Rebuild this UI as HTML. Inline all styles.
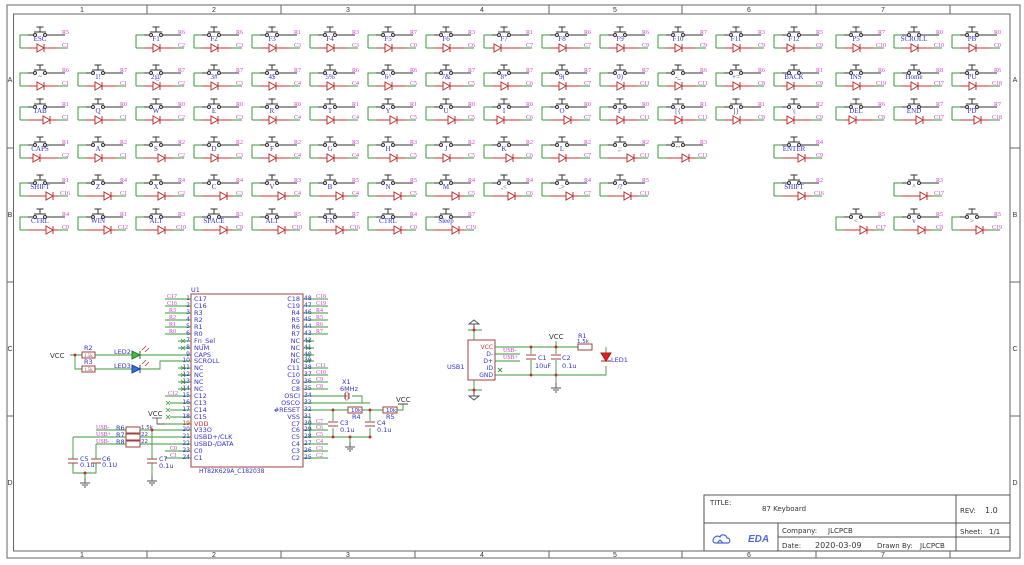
<!DOCTYPE html>
<html><head><meta charset="utf-8"><style>
html,body{margin:0;padding:0;background:#fff;}
svg{display:block;}
.k{font:7px "Liberation Serif",serif;fill:#3333cc;text-anchor:middle;}
.r{font:6px "Liberation Serif",serif;fill:#d040d0;}
.p{font:6px "Liberation Serif",serif;fill:#d040d0;}
.s{font:7px "DejaVu Sans","Liberation Sans",sans-serif;fill:#3333cc;}
.n{font:6.5px "DejaVu Sans","Liberation Sans",sans-serif;fill:#3333cc;}
.b{font:7px "DejaVu Sans","Liberation Sans",sans-serif;fill:#333;}
.fr{font:7px "Liberation Sans",sans-serif;fill:#333;text-anchor:middle;}
</style></head><body>
<svg width="1024" height="565" viewBox="0 0 1024 565" xmlns="http://www.w3.org/2000/svg">
<defs>
<g id="s" fill="none" stroke-width="1">
<path d="M13,0H0V13" stroke="#3a9a3a"/>
<path d="M0,13H8" stroke="#3a9a3a"/>
<path d="M8,0H13.5M26.5,0H45" stroke="#333"/>
<circle cx="15" cy="0" r="1.5" stroke="#333"/><circle cx="25" cy="0" r="1.5" stroke="#333"/>
<path d="M14,-3H26M20,-3V-8M16.5,-8H23.5" stroke="#333"/>
<path d="M8,13H45" stroke="#c03030"/>
<path d="M38,13H48" stroke="#3a9a3a"/>
</g>
<g id="d" stroke="#c03030" fill="#fff" stroke-width="1"><path d="M0,9V17L7,13Z"/><path d="M7,9V17"/></g>
<g id="gnd" stroke="#555" fill="none"><path d="M0,0V5M-5,5H5M-3,7H3M-1,9H1"/></g>
</defs>
<!-- frame -->
<g fill="none" stroke="#666" stroke-width="1">
<rect x="7" y="5" width="1013" height="553"/>
<rect x="13.5" y="14" width="996.5" height="537"/>
<path d="M147,5V14M281,5V14M415,5V14M549,5V14M682,5V14M816,5V14M950,5V14"/>
<path d="M147,551V558M281,551V558M415,551V558M549,551V558M682,551V558M816,551V558M950,551V558"/>
<path d="M7,148H13.5M7,282H13.5M7,416H13.5M1010,148H1020M1010,282H1020M1010,416H1020"/>
</g>
<g class="fr"><text x="82" y="12">1</text><text x="214" y="12">2</text><text x="348" y="12">3</text><text x="482" y="12">4</text><text x="615" y="12">5</text><text x="749" y="12">6</text><text x="883" y="12">7</text>
<text x="82" y="557">1</text><text x="214" y="557">2</text><text x="348" y="557">3</text><text x="482" y="557">4</text><text x="615" y="557">5</text><text x="749" y="557">6</text><text x="883" y="557">7</text>
<text x="10" y="82">A</text><text x="10" y="217">B</text><text x="10" y="351">C</text><text x="10" y="485">D</text>
<text x="1015" y="82">A</text><text x="1015" y="217">B</text><text x="1015" y="351">C</text><text x="1015" y="485">D</text></g>

<!-- Row 1 y35 -->
<g transform="translate(20,35)"><use href="#s"/><use href="#d" x="17"/><text class="k" x="20" y="6">ESC</text><text class="r" x="42" y="-1">R5</text><text class="r" x="42" y="12">C1</text></g>
<g transform="translate(136,35)"><use href="#s"/><use href="#d" x="17"/><text class="k" x="20" y="6">F1</text><text class="r" x="42" y="-1">R6</text><text class="r" x="42" y="12">C2</text></g>
<g transform="translate(194,35)"><use href="#s"/><use href="#d" x="17"/><text class="k" x="20" y="6">F2</text><text class="r" x="42" y="-1">R6</text><text class="r" x="42" y="12">C3</text></g>
<g transform="translate(252,35)"><use href="#s"/><use href="#d" x="17"/><text class="k" x="20" y="6">F3</text><text class="r" x="42" y="-1">R1</text><text class="r" x="42" y="12">C3</text></g>
<g transform="translate(310,35)"><use href="#s"/><use href="#d" x="17"/><text class="k" x="20" y="6">F4</text><text class="r" x="42" y="-1">R3</text><text class="r" x="42" y="12">C3</text></g>
<g transform="translate(368,35)"><use href="#s"/><use href="#d" x="17"/><text class="k" x="20" y="6">F5</text><text class="r" x="42" y="-1">R7</text><text class="r" x="42" y="12">C0</text></g>
<g transform="translate(426,35)"><use href="#s"/><use href="#d" x="17"/><text class="k" x="20" y="6">F6</text><text class="r" x="42" y="-1">R3</text><text class="r" x="42" y="12">C6</text></g>
<g transform="translate(484,35)"><use href="#s"/><use href="#d" x="10"/><text class="k" x="20" y="6">F7</text><text class="r" x="42" y="-1">R1</text><text class="r" x="42" y="12">C7</text></g>
<g transform="translate(542,35)"><use href="#s"/><use href="#d" x="17"/><text class="k" x="20" y="6">F8</text><text class="r" x="42" y="-1">R6</text><text class="r" x="42" y="12">C7</text></g>
<g transform="translate(600,35)"><use href="#s"/><use href="#d" x="17"/><text class="k" x="20" y="6">F9</text><text class="r" x="42" y="-1">R6</text><text class="r" x="42" y="12">C9</text></g>
<g transform="translate(658,35)"><use href="#s"/><use href="#d" x="17"/><text class="k" x="20" y="6">F10</text><text class="r" x="42" y="-1">R7</text><text class="r" x="42" y="12">C9</text></g>
<g transform="translate(716,35)"><use href="#s"/><use href="#d" x="17"/><text class="k" x="20" y="6">F11</text><text class="r" x="42" y="-1">R3</text><text class="r" x="42" y="12">C9</text></g>
<g transform="translate(774,35)"><use href="#s"/><use href="#d" x="13"/><text class="k" x="20" y="6">F12</text><text class="r" x="42" y="-1">R5</text><text class="r" x="42" y="12">C9</text></g>
<g transform="translate(836,35)"><use href="#s"/><use href="#d" x="17"/><text class="k" x="20" y="6">P5</text><text class="r" x="42" y="-1">R7</text><text class="r" x="40" y="12">C10</text></g>
<g transform="translate(894,35)"><use href="#s"/><use href="#d" x="17"/><text class="k" x="20" y="6">SCROLL</text><text class="r" x="42" y="-1">R0</text><text class="r" x="40" y="12">C10</text></g>
<g transform="translate(952,35)"><use href="#s"/><use href="#d" x="17"/><text class="k" x="20" y="6">PB</text><text class="r" x="42" y="-1">R0</text><text class="r" x="42" y="12">C0</text></g>

<!-- Row 2 y73 -->
<g transform="translate(20,73)"><use href="#s"/><use href="#d" x="17"/><text class="k" x="20" y="6">~</text><text class="r" x="42" y="-1">R6</text><text class="r" x="42" y="12">C1</text></g>
<g transform="translate(78,73)"><use href="#s"/><use href="#d" x="17"/><text class="k" x="20" y="6">1!</text><text class="r" x="42" y="-1">R7</text><text class="r" x="42" y="12">C1</text></g>
<g transform="translate(136,73)"><use href="#s"/><use href="#d" x="17"/><text class="k" x="20" y="6">2@</text><text class="r" x="42" y="-1">R7</text><text class="r" x="42" y="12">C2</text></g>
<g transform="translate(194,73)"><use href="#s"/><use href="#d" x="17"/><text class="k" x="20" y="6">3#</text><text class="r" x="42" y="-1">R7</text><text class="r" x="42" y="12">C3</text></g>
<g transform="translate(252,73)"><use href="#s"/><use href="#d" x="17"/><text class="k" x="20" y="6">4$</text><text class="r" x="42" y="-1">R7</text><text class="r" x="42" y="12">C4</text></g>
<g transform="translate(310,73)"><use href="#s"/><use href="#d" x="17"/><text class="k" x="20" y="6">5%</text><text class="r" x="42" y="-1">R6</text><text class="r" x="42" y="12">C4</text></g>
<g transform="translate(368,73)"><use href="#s"/><use href="#d" x="17"/><text class="k" x="20" y="6">6^</text><text class="r" x="42" y="-1">R6</text><text class="r" x="42" y="12">C5</text></g>
<g transform="translate(426,73)"><use href="#s"/><use href="#d" x="17"/><text class="k" x="20" y="6">7&amp;</text><text class="r" x="42" y="-1">R7</text><text class="r" x="42" y="12">C5</text></g>
<g transform="translate(484,73)"><use href="#s"/><use href="#d" x="17"/><text class="k" x="20" y="6">8*</text><text class="r" x="42" y="-1">R7</text><text class="r" x="42" y="12">C6</text></g>
<g transform="translate(542,73)"><use href="#s"/><use href="#d" x="17"/><text class="k" x="20" y="6">9(</text><text class="r" x="42" y="-1">R7</text><text class="r" x="42" y="12">C7</text></g>
<g transform="translate(600,73)"><use href="#s"/><use href="#d" x="17"/><text class="k" x="20" y="6">0)</text><text class="r" x="42" y="-1">R7</text><text class="r" x="40" y="12">C11</text></g>
<g transform="translate(658,73)"><use href="#s"/><use href="#d" x="17"/><text class="k" x="20" y="6">-_</text><text class="r" x="42" y="-1">R6</text><text class="r" x="40" y="12">C11</text></g>
<g transform="translate(716,73)"><use href="#s"/><use href="#d" x="17"/><text class="k" x="20" y="6">+=</text><text class="r" x="42" y="-1">R6</text><text class="r" x="42" y="12">C8</text></g>
<g transform="translate(774,73)"><use href="#s"/><use href="#d" x="13"/><text class="k" x="20" y="6">BACK</text><text class="r" x="42" y="-1">R1</text><text class="r" x="42" y="12">C9</text></g>
<g transform="translate(836,73)"><use href="#s"/><use href="#d" x="17"/><text class="k" x="20" y="6">INS</text><text class="r" x="42" y="-1">R6</text><text class="r" x="40" y="12">C19</text></g>
<g transform="translate(894,73)"><use href="#s"/><use href="#d" x="17"/><text class="k" x="20" y="6">Home</text><text class="r" x="42" y="-1">R8</text><text class="r" x="40" y="12">C17</text></g>
<g transform="translate(952,73)"><use href="#s"/><use href="#d" x="17"/><text class="k" x="20" y="6">PU</text><text class="r" x="42" y="-1">R6</text><text class="r" x="40" y="12">C18</text></g>

<!-- Row 3 y107 -->
<g transform="translate(20,107)"><use href="#s"/><use href="#d" x="23"/><text class="k" x="20" y="6">TAB</text><text class="r" x="42" y="-1">R1</text><text class="r" x="42" y="12">C1</text></g>
<g transform="translate(78,107)"><use href="#s"/><use href="#d" x="17"/><text class="k" x="20" y="6">Q</text><text class="r" x="42" y="-1">R0</text><text class="r" x="42" y="12">C1</text></g>
<g transform="translate(136,107)"><use href="#s"/><use href="#d" x="17"/><text class="k" x="20" y="6">W</text><text class="r" x="42" y="-1">R0</text><text class="r" x="42" y="12">C2</text></g>
<g transform="translate(194,107)"><use href="#s"/><use href="#d" x="17"/><text class="k" x="20" y="6">E</text><text class="r" x="42" y="-1">R0</text><text class="r" x="42" y="12">C3</text></g>
<g transform="translate(252,107)"><use href="#s"/><use href="#d" x="17"/><text class="k" x="20" y="6">R</text><text class="r" x="42" y="-1">R0</text><text class="r" x="42" y="12">C4</text></g>
<g transform="translate(310,107)"><use href="#s"/><use href="#d" x="17"/><text class="k" x="20" y="6">T</text><text class="r" x="42" y="-1">R1</text><text class="r" x="42" y="12">C4</text></g>
<g transform="translate(368,107)"><use href="#s"/><use href="#d" x="22"/><text class="k" x="20" y="6">Y</text><text class="r" x="42" y="-1">R1</text><text class="r" x="42" y="12">C5</text></g>
<g transform="translate(426,107)"><use href="#s"/><use href="#d" x="22"/><text class="k" x="20" y="6">U</text><text class="r" x="42" y="-1">R0</text><text class="r" x="42" y="12">C5</text></g>
<g transform="translate(484,107)"><use href="#s"/><use href="#d" x="13"/><text class="k" x="20" y="6">I</text><text class="r" x="42" y="-1">R0</text><text class="r" x="42" y="12">C6</text></g>
<g transform="translate(542,107)"><use href="#s"/><use href="#d" x="22"/><text class="k" x="20" y="6">O</text><text class="r" x="42" y="-1">R0</text><text class="r" x="42" y="12">C7</text></g>
<g transform="translate(600,107)"><use href="#s"/><use href="#d" x="17"/><text class="k" x="20" y="6">P</text><text class="r" x="42" y="-1">R0</text><text class="r" x="40" y="12">C11</text></g>
<g transform="translate(658,107)"><use href="#s"/><use href="#d" x="17"/><text class="k" x="20" y="6">[{</text><text class="r" x="42" y="-1">R1</text><text class="r" x="40" y="12">C11</text></g>
<g transform="translate(716,107)"><use href="#s"/><use href="#d" x="17"/><text class="k" x="20" y="6">]}</text><text class="r" x="42" y="-1">R1</text><text class="r" x="42" y="12">C8</text></g>
<g transform="translate(774,107)"><use href="#s"/><use href="#d" x="13"/><text class="k" x="20" y="6">\|</text><text class="r" x="42" y="-1">R2</text><text class="r" x="42" y="12">C9</text></g>
<g transform="translate(836,107)"><use href="#s"/><use href="#d" x="13"/><text class="k" x="20" y="6">DEL</text><text class="r" x="42" y="-1">R6</text><text class="r" x="42" y="12">C8</text></g>
<g transform="translate(894,107)"><use href="#s"/><use href="#d" x="22"/><text class="k" x="20" y="6">END</text><text class="r" x="42" y="-1">R7</text><text class="r" x="40" y="12">C17</text></g>
<g transform="translate(952,107)"><use href="#s"/><use href="#d" x="22"/><text class="k" x="20" y="6">PD</text><text class="r" x="42" y="-1">R7</text><text class="r" x="40" y="12">C18</text></g>

<!-- Row 4 y145 -->
<g transform="translate(20,145)"><use href="#s"/><use href="#d" x="13"/><text class="k" x="20" y="6">CAPS</text><text class="r" x="42" y="-1">R1</text><text class="r" x="42" y="12">C2</text></g>
<g transform="translate(78,145)"><use href="#s"/><use href="#d" x="17"/><text class="k" x="20" y="6">A</text><text class="r" x="42" y="-1">R2</text><text class="r" x="42" y="12">C1</text></g>
<g transform="translate(136,145)"><use href="#s"/><use href="#d" x="22"/><text class="k" x="20" y="6">S</text><text class="r" x="42" y="-1">R2</text><text class="r" x="42" y="12">C2</text></g>
<g transform="translate(194,145)"><use href="#s"/><use href="#d" x="17"/><text class="k" x="20" y="6">D</text><text class="r" x="42" y="-1">R2</text><text class="r" x="42" y="12">C3</text></g>
<g transform="translate(252,145)"><use href="#s"/><use href="#d" x="17"/><text class="k" x="20" y="6">F</text><text class="r" x="42" y="-1">R2</text><text class="r" x="42" y="12">C4</text></g>
<g transform="translate(310,145)"><use href="#s"/><use href="#d" x="17"/><text class="k" x="20" y="6">G</text><text class="r" x="42" y="-1">R3</text><text class="r" x="42" y="12">C4</text></g>
<g transform="translate(368,145)"><use href="#s"/><use href="#d" x="22"/><text class="k" x="20" y="6">H</text><text class="r" x="42" y="-1">R3</text><text class="r" x="42" y="12">C5</text></g>
<g transform="translate(426,145)"><use href="#s"/><use href="#d" x="17"/><text class="k" x="20" y="6">J</text><text class="r" x="42" y="-1">R2</text><text class="r" x="42" y="12">C5</text></g>
<g transform="translate(484,145)"><use href="#s"/><use href="#d" x="22"/><text class="k" x="20" y="6">K</text><text class="r" x="42" y="-1">R2</text><text class="r" x="42" y="12">C6</text></g>
<g transform="translate(542,145)"><use href="#s"/><use href="#d" x="17"/><text class="k" x="20" y="6">L</text><text class="r" x="42" y="-1">R2</text><text class="r" x="42" y="12">C7</text></g>
<g transform="translate(600,145)"><use href="#s"/><use href="#d" x="27"/><text class="k" x="20" y="6">;:</text><text class="r" x="42" y="-1">R2</text><text class="r" x="40" y="12">C11</text></g>
<g transform="translate(658,145)"><use href="#s"/><use href="#d" x="24"/><text class="k" x="20" y="6">'"</text><text class="r" x="42" y="-1">R3</text><text class="r" x="40" y="12">C11</text></g>
<g transform="translate(774,145)"><use href="#s"/><use href="#d" x="24"/><text class="k" x="20" y="6">ENTER</text><text class="r" x="42" y="-1">R4</text><text class="r" x="42" y="12">C9</text></g>

<!-- Row 5 y183 -->
<g transform="translate(20,183)"><use href="#s"/><use href="#d" x="26"/><text class="k" x="20" y="6">SHIFT</text><text class="r" x="42" y="-1">R1</text><text class="r" x="40" y="12">C16</text></g>
<g transform="translate(78,183)"><use href="#s"/><use href="#d" x="26"/><text class="k" x="20" y="6">Z</text><text class="r" x="42" y="-1">R4</text><text class="r" x="42" y="12">C1</text></g>
<g transform="translate(136,183)"><use href="#s"/><use href="#d" x="22"/><text class="k" x="20" y="6">X</text><text class="r" x="42" y="-1">R4</text><text class="r" x="42" y="12">C2</text></g>
<g transform="translate(194,183)"><use href="#s"/><use href="#d" x="26"/><text class="k" x="20" y="6">C</text><text class="r" x="42" y="-1">R4</text><text class="r" x="42" y="12">C3</text></g>
<g transform="translate(252,183)"><use href="#s"/><use href="#d" x="26"/><text class="k" x="20" y="6">V</text><text class="r" x="42" y="-1">R3</text><text class="r" x="42" y="12">C4</text></g>
<g transform="translate(310,183)"><use href="#s"/><use href="#d" x="26"/><text class="k" x="20" y="6">B</text><text class="r" x="42" y="-1">R5</text><text class="r" x="42" y="12">C4</text></g>
<g transform="translate(368,183)"><use href="#s"/><use href="#d" x="26"/><text class="k" x="20" y="6">N</text><text class="r" x="42" y="-1">R5</text><text class="r" x="42" y="12">C5</text></g>
<g transform="translate(426,183)"><use href="#s"/><use href="#d" x="26"/><text class="k" x="20" y="6">M</text><text class="r" x="42" y="-1">R4</text><text class="r" x="42" y="12">C5</text></g>
<g transform="translate(484,183)"><use href="#s"/><use href="#d" x="24"/><text class="k" x="20" y="6">,&lt;</text><text class="r" x="42" y="-1">R4</text><text class="r" x="42" y="12">C6</text></g>
<g transform="translate(542,183)"><use href="#s"/><use href="#d" x="24"/><text class="k" x="20" y="6">.&gt;</text><text class="r" x="42" y="-1">R4</text><text class="r" x="42" y="12">C7</text></g>
<g transform="translate(600,183)"><use href="#s"/><use href="#d" x="24"/><text class="k" x="20" y="6">/?</text><text class="r" x="42" y="-1">R5</text><text class="r" x="40" y="12">C11</text></g>
<g transform="translate(774,183)"><use href="#s"/><use href="#d" x="24"/><text class="k" x="20" y="6">SHIFT</text><text class="r" x="42" y="-1">R2</text><text class="r" x="40" y="12">C16</text></g>
<g transform="translate(894,183)"><use href="#s"/><use href="#d" x="26"/><text class="k" x="20" y="6">^</text><text class="r" x="42" y="-1">R3</text><text class="r" x="40" y="12">C17</text></g>

<!-- Row 6 y217 -->
<g transform="translate(20,217)"><use href="#s"/><use href="#d" x="26"/><text class="k" x="20" y="6">CTRL</text><text class="r" x="42" y="-1">R4</text><text class="r" x="42" y="12">C0</text></g>
<g transform="translate(78,217)"><use href="#s"/><use href="#d" x="26"/><text class="k" x="20" y="6">WIN</text><text class="r" x="42" y="-1">R1</text><text class="r" x="40" y="12">C12</text></g>
<g transform="translate(136,217)"><use href="#s"/><use href="#d" x="22"/><text class="k" x="20" y="6">ALT</text><text class="r" x="42" y="-1">R3</text><text class="r" x="40" y="12">C10</text></g>
<g transform="translate(194,217)"><use href="#s"/><use href="#d" x="26"/><text class="k" x="20" y="6">SPACE</text><text class="r" x="42" y="-1">R3</text><text class="r" x="42" y="12">C8</text></g>
<g transform="translate(252,217)"><use href="#s"/><use href="#d" x="26"/><text class="k" x="20" y="6">ALT</text><text class="r" x="42" y="-1">R5</text><text class="r" x="40" y="12">C10</text></g>
<g transform="translate(310,217)"><use href="#s"/><use href="#d" x="26"/><text class="k" x="20" y="6">FN</text><text class="r" x="42" y="-1">R7</text><text class="r" x="40" y="12">C16</text></g>
<g transform="translate(368,217)"><use href="#s"/><use href="#d" x="26"/><text class="k" x="20" y="6">CTRL</text><text class="r" x="42" y="-1">R4</text><text class="r" x="42" y="12">C0</text></g>
<g transform="translate(426,217)"><use href="#s"/><use href="#d" x="26"/><text class="k" x="20" y="6">Sleep</text><text class="r" x="42" y="-1">R7</text><text class="r" x="40" y="12">C19</text></g>
<g transform="translate(836,217)"><use href="#s"/><use href="#d" x="24"/><text class="k" x="20" y="6">&lt;</text><text class="r" x="42" y="-1">R5</text><text class="r" x="40" y="12">C17</text></g>
<g transform="translate(894,217)"><use href="#s"/><use href="#d" x="24"/><text class="k" x="20" y="6">v</text><text class="r" x="42" y="-1">R5</text><text class="r" x="42" y="12">C8</text></g>
<g transform="translate(952,217)"><use href="#s"/><use href="#d" x="24"/><text class="k" x="20" y="6">&gt;</text><text class="r" x="42" y="-1">R5</text><text class="r" x="40" y="12">C19</text></g>

<!-- Chip U1 -->
<rect x="191" y="294" width="112" height="173" fill="none" stroke="#a04040" stroke-width="1"/>
<text class="n" x="191" y="292">U1</text>
<text class="n" x="199" y="473" style="font-size:6px">HT82K629A_C182038</text>
<g stroke="#3a9a3a" stroke-width="0.9">
<path d="M165,299H191M165,306H191M165,313H191M165,320H191M165,327H191M165,334H191M178,341H191M178,348H191M160,355H191M163,361H191M178,368H191M178,375H191M178,382H191M178,389H191M165,396H191M170,403H191M170,410H191M170,417H191M157,424H191M150,430H191M150,437H191M150,444H191M165,451H191M165,458H191"/>
<path d="M303,299H328M303,306H328M303,313H328M303,320H328M303,327H328M303,334H328M303,341H314M303,348H314M303,355H314M303,361H314M303,368H328M303,375H328M303,382H328M303,389H328M303,396H347M303,403H370M303,410H345M303,417H310M303,424H328M303,430H328M303,437H328M303,444H328M303,451H328M303,458H328"/>
</g>
<g class="n" text-anchor="start">
<text x="194" y="301">C17</text><text x="194" y="308">C16</text><text x="194" y="315">R3</text><text x="194" y="322">R2</text><text x="194" y="329">R1</text><text x="194" y="336">R0</text><text x="194" y="343">Fn_Sel</text><text x="194" y="350">NUM</text><text x="194" y="357">CAPS</text><text x="194" y="363">SCROLL</text><text x="194" y="370">NC</text><text x="194" y="377">NC</text><text x="194" y="384">NC</text><text x="194" y="391">NC</text><text x="194" y="398">C12</text><text x="194" y="405">C13</text><text x="194" y="412">C14</text><text x="194" y="419">C15</text><text x="194" y="426" fill="#e03030">VDD</text><text x="194" y="432">V33O</text><text x="194" y="439">USBD+/CLK</text><text x="194" y="446">USBD-/DATA</text><text x="194" y="453">C0</text><text x="194" y="460">C1</text>
</g>
<g class="n" text-anchor="end">
<text x="300" y="301">C18</text><text x="300" y="308">C19</text><text x="300" y="315">R4</text><text x="300" y="322">R5</text><text x="300" y="329">R6</text><text x="300" y="336">R7</text><text x="300" y="343">NC</text><text x="300" y="350">NC</text><text x="300" y="357">NC</text><text x="300" y="363">NC</text><text x="300" y="370">C11</text><text x="300" y="377">C10</text><text x="300" y="384">C9</text><text x="300" y="391">C8</text><text x="300" y="398">OSCI</text><text x="300" y="405">OSCO</text><text x="300" y="412">#RESET</text><text x="300" y="419">VSS</text><text x="300" y="426">C7</text><text x="300" y="432">C6</text><text x="300" y="439">C5</text><text x="300" y="446">C4</text><text x="300" y="453">C3</text><text x="300" y="460">C2</text>
</g>
<g class="n" style="font-size:6px" text-anchor="end">
<text x="190" y="300">1</text><text x="190" y="307">2</text><text x="190" y="314">3</text><text x="190" y="321">4</text><text x="190" y="328">5</text><text x="190" y="335">6</text><text x="190" y="342">7</text><text x="190" y="349">8</text><text x="190" y="356">9</text><text x="190" y="362">10</text><text x="190" y="369">11</text><text x="190" y="376">12</text><text x="190" y="383">13</text><text x="190" y="390">14</text><text x="190" y="397">15</text><text x="190" y="404">16</text><text x="190" y="411">17</text><text x="190" y="418">18</text><text x="190" y="425" fill="#e03030">19</text><text x="190" y="431">20</text><text x="190" y="438">21</text><text x="190" y="445">22</text><text x="190" y="452">23</text><text x="190" y="459">24</text>
</g>
<g class="n" style="font-size:6px" text-anchor="start">
<text x="304" y="300">48</text><text x="304" y="307">47</text><text x="304" y="314">46</text><text x="304" y="321">45</text><text x="304" y="328">44</text><text x="304" y="335">43</text><text x="304" y="342">42</text><text x="304" y="349">41</text><text x="304" y="356">40</text><text x="304" y="362">39</text><text x="304" y="369">38</text><text x="304" y="376">37</text><text x="304" y="383">36</text><text x="304" y="390">35</text><text x="304" y="397">34</text><text x="304" y="404">33</text><text x="304" y="411">32</text><text x="304" y="418">31</text><text x="304" y="425">30</text><text x="304" y="431">29</text><text x="304" y="438">28</text><text x="304" y="445">27</text><text x="304" y="452">26</text><text x="304" y="459">25</text>
</g>
<g class="p">
<text x="167" y="298">C17</text><text x="167" y="305">C16</text><text x="169" y="312">R3</text><text x="169" y="319">R2</text><text x="169" y="326">R1</text><text x="169" y="333">R0</text><text x="168" y="395">C12</text><text x="170" y="450">C0</text><text x="170" y="457">C1</text>
<text x="316" y="298">C18</text><text x="316" y="305">C19</text><text x="316" y="312">R4</text><text x="316" y="319">R5</text><text x="316" y="326">R6</text><text x="316" y="333">R7</text>
<text x="316" y="367">C11</text><text x="316" y="374">C10</text><text x="316" y="381">C9</text><text x="316" y="388">C8</text>
<text x="316" y="423">C7</text><text x="316" y="429">C6</text><text x="316" y="436">C5</text><text x="316" y="443">C4</text><text x="316" y="450">C3</text><text x="316" y="457">C2</text>
</g>
<g stroke="#3a9a3a" stroke-width="0.8" font-size="6"><path d="M181,339l4,4m0,-4l-4,4M181,346l4,4m0,-4l-4,4M181,366l4,4m0,-4l-4,4M181,373l4,4m0,-4l-4,4M181,380l4,4m0,-4l-4,4M181,387l4,4m0,-4l-4,4M166,401l4,4m0,-4l-4,4M166,408l4,4m0,-4l-4,4M166,415l4,4m0,-4l-4,4M306,339l4,4m0,-4l-4,4M306,346l4,4m0,-4l-4,4M306,353l4,4m0,-4l-4,4M306,359l4,4m0,-4l-4,4"/></g>

<!-- LEDs -->
<text class="b" x="50" y="358">VCC</text>
<g stroke="#3a9a3a" fill="none" stroke-width="0.9"><path d="M70,355H82M95,355H132M140,355H160M75,355V369H82M95,369H132M140,369H160V361H163"/></g>
<circle cx="75" cy="355" r="1.5" fill="#c03030"/>
<rect x="82" y="352" width="13" height="6" fill="#fff" stroke="#a04040"/>
<rect x="82" y="366" width="13" height="6" fill="#fff" stroke="#a04040"/>
<text class="n" x="84" y="350">R2</text><text class="n" x="84" y="364">R3</text>
<text class="p" x="84" y="357" style="font-size:5px;fill:#a04040">1.5k</text><text class="p" x="84" y="371" style="font-size:5px;fill:#a04040">1.5k</text>
<path d="M132,351V359L140,355Z" fill="#40c040" stroke="#307030"/><path d="M140,351V359" stroke="#307030"/>
<path d="M132,365V373L140,369Z" fill="#3070e0" stroke="#2040a0"/><path d="M140,365V373" stroke="#2040a0"/>
<text class="n" x="114" y="354">LED2</text><text class="n" x="114" y="368">LED3</text>
<path d="M142,350l4,-4M145,352l4,-4M142,364l4,-4M145,366l4,-4" stroke="#c03030" stroke-width="0.8"/>

<!-- VCC VDD -->
<text class="b" x="148" y="416">VCC</text>
<path d="M152,418H162M157,418V424H165" stroke="#444" fill="none" stroke-width="0.8"/>
<!-- USB resistors -->
<g stroke="#3a9a3a" fill="none" stroke-width="0.9"><path d="M96,430H126M96,437H126M96,444H126M140,430H150M140,437H150M140,444H150M73,437H96M73,437V455M96,444V455M152,430V455M73,468V473H96V468M85,473V478M152,465V476"/></g>
<rect x="126" y="427" width="14" height="6" fill="#fff" stroke="#a04040"/>
<rect x="126" y="434" width="14" height="6" fill="#fff" stroke="#a04040"/>
<rect x="126" y="441" width="14" height="6" fill="#fff" stroke="#a04040"/>
<circle cx="152" cy="430" r="1.5" fill="#c03030"/><circle cx="85" cy="473" r="1.5" fill="#c03030"/>
<g class="p"><text x="96" y="429">USB-</text><text x="96" y="436">USB+</text><text x="96" y="443">USB-</text></g>
<g class="n"><text x="116" y="430">R6</text><text x="116" y="437">R7</text><text x="116" y="444">R8</text><text x="141" y="429" style="font-size:5.5px">1.5k</text><text x="141" y="436" style="font-size:5.5px">22</text><text x="141" y="443" style="font-size:5.5px">22</text></g>
<g stroke="#a04040" stroke-width="1"><path d="M68,459H78M68,463H78M91,459H101M91,463H101M147,459H157M147,463H157"/></g>
<path d="M73,455V459M73,463V468M96,455V459M96,463V468M152,455V459M152,463V465" stroke="#3a9a3a"/>
<g class="n"><text x="80" y="461">C5</text><text x="80" y="467">0.1u</text><text x="102" y="461">C6</text><text x="102" y="467">0.1U</text><text x="159" y="461">C7</text><text x="159" y="468">0.1u</text></g>
<use href="#gnd" x="85" y="478"/><use href="#gnd" x="152" y="476"/>

<!-- Crystal/reset -->
<g stroke="#3a9a3a" fill="none" stroke-width="0.9"><path d="M347,396H343M352,396H362V403H347M345,410H348M362,410H383M397,410H403V404M333,410V421M333,428V437H370M370,410V421M370,428V437M350,437V442M310,417V437H333"/></g>
<path d="M345,393V399M349,393V399" stroke="#a04040"/><rect x="345.5" y="392" width="2.5" height="8" fill="none" stroke="#a04040" stroke-width="0.5"/>
<text class="n" x="342" y="384">X1</text><text class="n" x="340" y="391">6MHz</text>
<rect x="348" y="407" width="14" height="6" fill="#fff" stroke="#a04040"/><rect x="383" y="407" width="14" height="6" fill="#fff" stroke="#a04040"/>
<text class="n" x="351" y="412" style="font-size:5.5px">10k</text><text class="n" x="386" y="412" style="font-size:5.5px">10k</text>
<text class="n" x="352" y="419">R4</text><text class="n" x="386" y="419">R5</text>
<text class="b" x="396" y="402">VCC</text><path d="M398,404H408" stroke="#444"/>
<path d="M328,422H338M328,426H338M365,422H375M365,426H375" stroke="#a04040"/>
<text class="n" x="340" y="425">C3</text><text class="n" x="340" y="432">0.1u</text><text class="n" x="377" y="425">C4</text><text class="n" x="377" y="432">0.1u</text>
<g fill="#c03030"><circle cx="333" cy="410" r="1.5"/><circle cx="370" cy="410" r="1.5"/><circle cx="333" cy="437" r="1.5"/><circle cx="350" cy="437" r="1.5"/><circle cx="370" cy="437" r="1.5"/><circle cx="362" cy="403" r="0"/></g>
<use href="#gnd" x="350" y="442"/>

<!-- USB -->
<rect x="468" y="340" width="27" height="40" fill="none" stroke="#a04040"/>
<text class="n" x="447" y="369">USB1</text>
<g class="n" text-anchor="end" style="font-size:6px"><text x="493" y="349" fill="#e03030">VCC</text><text x="493" y="356">D-</text><text x="493" y="363">D+</text><text x="493" y="370">ID</text><text x="493" y="377">GND</text></g>
<g stroke="#3a9a3a" fill="none" stroke-width="0.9"><path d="M495,347H592M606,347V353M495,354H520M495,361H520M495,375H606V366M474,340V329M474,380V391M531,347V354M531,360V375M556,347V354M556,360V375M556,375V383M556,341V347"/></g>
<path d="M468,330H482M468,390H482" stroke="#3a9a3a"/>
<g stroke="#555" fill="none"><path d="M474,329V324M469,324H479L474,320Z"/><path d="M474,391V396M469,396H479L474,400Z"/></g>
<g class="p"><text x="503" y="352">USB-</text><text x="503" y="359">USB+</text></g>
<path d="M498,368l4,4m0,-4l-4,4" stroke="#3a9a3a"/>
<path d="M526,355H536M526,359H536M551,355H561M551,359H561" stroke="#a04040"/>
<g class="n"><text x="538" y="360">C1</text><text x="535" y="368">10uF</text><text x="562" y="360">C2</text><text x="562" y="368">0.1u</text><text x="578" y="338">R1</text><text x="577" y="343" style="font-size:5.5px">1.5k</text><text x="611" y="362">LED1</text></g>
<text class="b" x="549" y="339">VCC</text>
<rect x="578" y="344" width="14" height="6" fill="#fff" stroke="#a04040"/>
<path d="M601,353H611L606,361Z" fill="#e02020" stroke="#a02020"/><path d="M601,361H611" stroke="#a02020"/>
<g fill="#c03030"><circle cx="531" cy="347" r="1.5"/><circle cx="556" cy="347" r="1.5"/><circle cx="531" cy="375" r="1.5"/><circle cx="556" cy="375" r="1.5"/><circle cx="474" cy="330" r="1.5"/><circle cx="474" cy="390" r="1.5"/></g>
<use href="#gnd" x="556" y="383"/>

<!-- Title block -->
<g fill="none" stroke="#555" stroke-width="1">
<rect x="704" y="495" width="306" height="56"/>
<path d="M956,495V551M704,523H1010M778,523V551M778,537H1010"/>
</g>
<g class="b" style="fill:#333">
<text x="710" y="505">TITLE:</text>
<text x="762" y="511">87 Keyboard</text>
<text x="960" y="513">REV:</text><text x="985" y="513" style="font-size:8px">1.0</text>
<text x="782" y="533">Company:</text><text x="828" y="533">JLCPCB</text>
<text x="960" y="534">Sheet:</text><text x="989" y="534">1/1</text>
<text x="782" y="548">Date:</text><text x="815" y="548" style="font-size:8px">2020-03-09</text><text x="877" y="548">Drawn By:</text><text x="920" y="548">JLCPCB</text>
</g>
<path d="M713,541c0,-4 4,-6 7,-4c1,-3 6,-3 7,1c3,0 4,4 1,5h-12c-2,0 -3,-1 -3,-2z M717,543l3,-3 3,3" fill="none" stroke="#4a6ad0" stroke-width="1.2"/>
<text x="748" y="542" style="font:italic bold 10px 'Liberation Sans',sans-serif;fill:#4a6ad0">EDA</text>
</svg>
</body></html>
